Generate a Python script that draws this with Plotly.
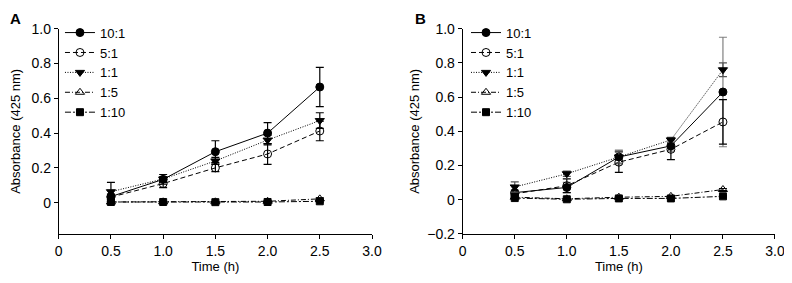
import plotly.graph_objects as go

time_h = [0.5, 1.0, 1.5, 2.0, 2.5]
series_names = ["10:1", "5:1", "1:1", "1:5", "1:10"]

# Panel A values and errors
a_10_1 = [0.035, 0.134, 0.293, 0.40, 0.665]
a_5_1 = [0.032, 0.110, 0.200, 0.280, 0.412]
a_1_1 = [0.063, 0.136, 0.240, 0.360, 0.472]
a_1_5 = [0.004, 0.005, 0.005, 0.008, 0.022]
a_1_10 = [0.004, 0.004, 0.003, 0.004, 0.008]
a_err_10_1 = [0.015, 0.028, 0.063, 0.06, 0.113]
a_err_5_1 = [0.012, 0.024, 0.022, 0.060, 0.056]
a_err_1_1 = [0.054, 0.012, 0.020, 0.028, 0.045]
a_err_1_5 = [0.003, 0.003, 0.003, 0.004, 0.006]
a_err_1_10 = [0.003, 0.003, 0.003, 0.003, 0.005]

# Panel B values and errors
b_10_1 = [0.042, 0.072, 0.250, 0.315, 0.630]
b_5_1 = [0.035, 0.082, 0.220, 0.295, 0.455]
b_1_1 = [0.075, 0.152, 0.250, 0.350, 0.760]
b_1_5 = [0.015, 0.006, 0.015, 0.020, 0.060]
b_1_10 = [0.010, 0.003, 0.008, 0.008, 0.020]
b_err_10_1 = [0.015, 0.030, 0.040, 0.030, 0.320]
b_err_5_1 = [0.012, 0.040, 0.060, 0.060, 0.130]
b_err_1_1 = [0.030, 0.015, 0.035, 0.015, 0.040]
b_err_1_5 = [0.004, 0.003, 0.004, 0.004, 0.006]
b_err_1_10 = [0.003, 0.003, 0.003, 0.003, 0.004]

x_ticks = [0, 0.5, 1.0, 1.5, 2.0, 2.5, 3.0]
x_ticktext = ["0", "0.5", "1.0", "1.5", "2.0", "2.5", "3.0"]
a_yticks = [0, 0.2, 0.4, 0.6, 0.8, 1.0]
a_yticktext = ["0", "0.2", "0.4", "0.6", "0.8", "1.0"]
b_yticks = [-0.2, 0, 0.2, 0.4, 0.6, 0.8, 1.0]
b_yticktext = ["\u22120.2", "0", "0.2", "0.4", "0.6", "0.8", "1.0"]

styles = [
    dict(symbol="circle", dash="solid", size=8),
    dict(symbol="circle-open", dash="5px,3px", size=8),
    dict(symbol="triangle-down", dash="1px,1.5px", size=8),
    dict(symbol="triangle-up-open", dash="5px,2px,1px,2px", size=8),
    dict(symbol="square", dash="6px,2px,2px,2px", size=7),
]

FONT = "Liberation Sans, Arial, sans-serif"
fig = go.Figure()

panels = [
    ("x", "y", "legend", [a_10_1, a_5_1, a_1_1, a_1_5, a_1_10],
     [a_err_10_1, a_err_5_1, a_err_1_1, a_err_1_5, a_err_1_10],
     ["black"] * 5),
    ("x2", "y2", "legend2", [b_10_1, b_5_1, b_1_1, b_1_5, b_1_10],
     [b_err_10_1, b_err_5_1, b_err_1_1, b_err_1_5, b_err_1_10],
     ["#808080", "black", "#555555", "black", "black"]),
]

for xa, ya, leg, vals, errs, ecols in panels:
    for name, v, e, st, ec in zip(series_names, vals, errs, styles, ecols):
        fig.add_trace(go.Scatter(
            x=time_h, y=v, name=name, xaxis=xa, yaxis=ya, legend=leg,
            mode="lines+markers",
            line=dict(color="black", width=1, dash=st["dash"]),
            marker=dict(symbol=st["symbol"], size=st["size"], color="black",
                        line=dict(color="black", width=1)),
            error_y=dict(type="data", array=e, visible=True, color=ec,
                         thickness=1.2, width=4),
        ))

axis_common = dict(showline=True, linecolor="black", linewidth=1, ticks="outside",
                   ticklen=4, tickwidth=1, tickcolor="black", showgrid=False,
                   zeroline=False, automargin=False,
                   tickfont=dict(family=FONT, size=14, color="black"))

# page is rendered with an 8px body margin: figure is 784x275
fig.update_layout(
    template="none",
    width=784, height=275,
    margin=dict(l=0, r=0, t=0, b=0),
    paper_bgcolor="white", plot_bgcolor="white",
    font=dict(family=FONT, size=13, color="black"),
    showlegend=True,
    xaxis=dict(domain=[0.0647, 0.4643], range=[0, 3.0], tickvals=x_ticks,
               ticktext=x_ticktext, anchor="y",
               title=dict(text="Time (h)", standoff=0, font=dict(size=13)), **axis_common),
    yaxis=dict(domain=[0.1782, 0.9247], range=[-0.18, 1.0], tickvals=a_yticks,
               ticktext=a_yticktext, anchor="x",
               title=dict(text="Absorbance (425 nm)", standoff=12, font=dict(size=13)), **axis_common),
    xaxis2=dict(domain=[0.58, 0.9783], range=[0, 3.0], tickvals=x_ticks,
                ticktext=x_ticktext, anchor="y2",
                title=dict(text="Time (h)", standoff=0, font=dict(size=13)), **axis_common),
    yaxis2=dict(domain=[0.1782, 0.9247], range=[-0.2, 1.0], tickvals=b_yticks,
                ticktext=b_yticktext, anchor="x2",
                title=dict(text="Absorbance (425 nm)", standoff=4, font=dict(size=13)), **axis_common),
    legend=dict(x=0.0663, y=0.965, xanchor="left", yanchor="top", xref="paper", yref="paper",
                bgcolor="rgba(0,0,0,0)", font=dict(size=13), itemwidth=30,
                tracegroupgap=0, traceorder="normal"),
    legend2=dict(x=0.5842, y=0.965, xanchor="left", yanchor="top", xref="paper", yref="paper",
                 bgcolor="rgba(0,0,0,0)", font=dict(size=13), itemwidth=30,
                 tracegroupgap=0, traceorder="normal"),
    annotations=[
        dict(text="<b>A</b>", x=0.0, y=1.0, xref="paper", yref="paper",
             xanchor="left", yanchor="top", showarrow=False, font=dict(size=15)),
        dict(text="<b>B</b>", x=0.5166, y=1.0, xref="paper", yref="paper",
             xanchor="left", yanchor="top", showarrow=False, font=dict(size=15)),
    ],
)

fig.write_html("out.html")
